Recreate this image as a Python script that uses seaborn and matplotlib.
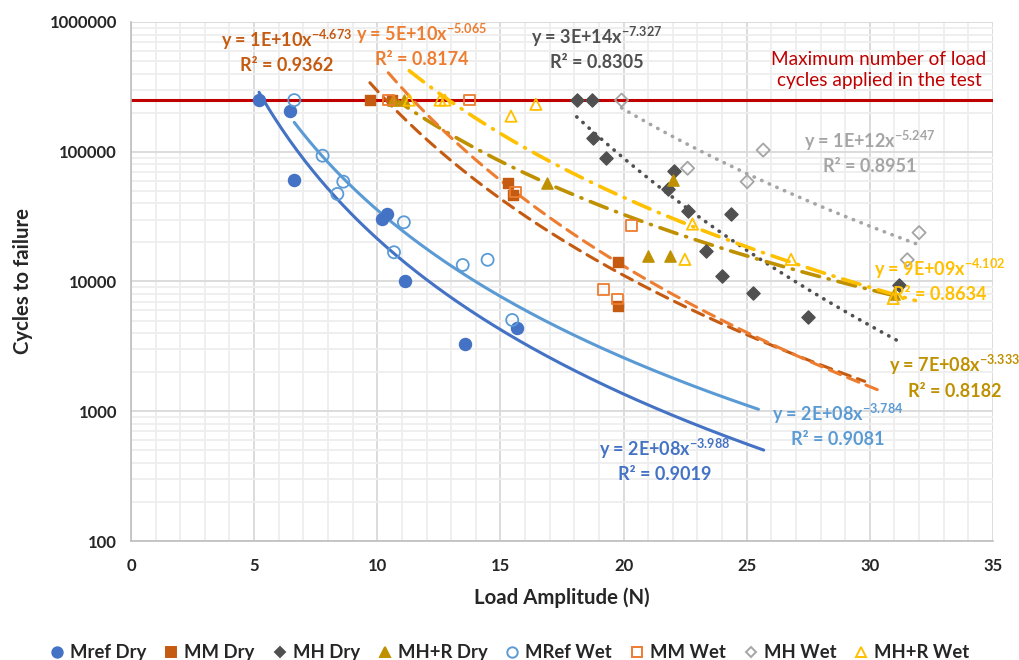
import numpy as np
import seaborn as sns
import matplotlib
matplotlib.use("Agg")
import matplotlib.pyplot as plt
from matplotlib.lines import Line2D
from matplotlib.ticker import LogLocator, MultipleLocator

# --- data ---
mref_dry_x = [5.2, 6.45, 6.6, 10.2, 10.38, 11.12, 13.56, 15.69]
mref_dry_y = [250000, 206000, 60500, 30300, 33100, 10000, 3300, 4360]

mm_dry_x = [9.7, 10.6, 15.32, 15.52, 19.79, 19.79]
mm_dry_y = [250000, 250000, 57100, 46400, 14200, 6480]

mh_dry_x = [18.1, 18.73, 18.77, 19.27, 21.79, 22.05, 22.6, 23.35, 24.0, 24.35, 25.27, 27.47, 31.18]
mh_dry_y = [250000, 250000, 127000, 90000, 51600, 71400, 35000, 17300, 11000, 33100, 8200, 5300, 9400]

mhr_dry_x = [10.65, 11.1, 16.88, 21.0, 21.88, 21.99, 31.0]
mhr_dry_y = [250000, 250000, 57800, 15700, 15700, 60600, 8000]

mref_wet_x = [6.63, 7.78, 8.38, 8.62, 10.68, 11.08, 13.47, 14.48, 15.48]
mref_wet_y = [250000, 93200, 47300, 58800, 16800, 28600, 13400, 14700, 5050]

mm_wet_x = [10.45, 13.76, 15.6, 19.18, 19.74, 20.33]
mm_wet_y = [250000, 250000, 49000, 8730, 7330, 26900]

mh_wet_x = [19.92, 22.6, 25.02, 25.67, 31.52, 32.0]
mh_wet_y = [250000, 74600, 58800, 103000, 14700, 23800]

mhr_wet_x = [11.3, 12.55, 12.75, 15.43, 16.44, 22.49, 22.8, 26.8, 30.95]
mhr_wet_y = [250000, 250000, 250000, 188000, 232000, 14800, 27700, 14800, 7400]

series_names = ["Mref Dry", "MM Dry", "MH Dry", "MH+R Dry", "MRef Wet", "MM Wet", "MH Wet", "MH+R Wet"]
series_x = [mref_dry_x, mm_dry_x, mh_dry_x, mhr_dry_x, mref_wet_x, mm_wet_x, mh_wet_x, mhr_wet_x]
series_y = [mref_dry_y, mm_dry_y, mh_dry_y, mhr_dry_y, mref_wet_y, mm_wet_y, mh_wet_y, mhr_wet_y]
trend_forward = [10, 10, 0, 0, 10, 10, 0, 0.9]

eq_coef = ["2E+08", "1E+10", "3E+14", "7E+08", "2E+08", "5E+10", "1E+12", "9E+09"]
eq_exp = ["-3.988", "-4.673", "-7.327", "-3.333", "-3.784", "-5.065", "-5.247", "-4.102"]
eq_r2 = ["0.9019", "0.9362", "0.8305", "0.8182", "0.9081", "0.8174", "0.8951", "0.8634"]

max_cycles = 250000

# --- styles ---
colors = ["#4472C4", "#C55A11", "#505050", "#BF9000", "#5B9BD5", "#ED7D31", "#A5A5A5", "#FFC000"]
markers = ["o", "s", "D", "^", "o", "s", "D", "^"]
msize = [75, 60, 45, 65, 75, 60, 45, 65]
filled = [True, True, True, True, False, False, False, False]
dash_long = (0, (4, 2.5))
dots = (0, (0.1, 2.2))
dashdot = (0, (5, 2.5, 0.3, 2.5))
line_styles = ["-", dash_long, dots, dashdot, "-", dash_long, dots, dashdot]
line_widths = [2.2, 2.2, 2.6, 2.6, 2.2, 2.2, 2.6, 2.6]
label_pos = [(21.68, 421), (6.33, 597600), (18.92, 630000), (33.45, 1853),
             (28.71, 783), (11.81, 665000), (30.0, 99500), (32.85, 10280)]

sns.set_theme(style="white")
plt.rcParams["font.family"] = ["Lato", "DejaVu Sans"]
plt.rcParams["mathtext.fontset"] = "custom"
plt.rcParams["mathtext.rm"] = "Lato"
plt.rcParams["mathtext.bf"] = "Lato:bold"

fig = plt.figure(figsize=(10.2, 6.6), dpi=100)
ax = fig.add_axes([0.1284, 0.1803, 0.8451, 0.7864])

ax.set_yscale("log")
ax.set_xlim(0, 35)
ax.set_ylim(100, 1000000)

# grid
ax.xaxis.set_major_locator(MultipleLocator(5))
ax.xaxis.set_minor_locator(MultipleLocator(1))
ax.yaxis.set_major_locator(LogLocator(base=10))
ax.yaxis.set_minor_locator(LogLocator(base=10, subs=np.arange(2, 10)))
ax.grid(which="minor", color="#EEEEEE", linewidth=1.3)
ax.grid(which="major", color="#D9D9D9", linewidth=1.3)
ax.set_axisbelow(True)
for s in ["top", "right"]:
    ax.spines[s].set_visible(False)
for s in ["left", "bottom"]:
    ax.spines[s].set_color("#BFBFBF")
    ax.spines[s].set_linewidth(1.2)
ax.tick_params(which="both", direction="out", color="#BFBFBF", length=4, width=1)
ax.tick_params(which="major", labelsize=12, pad=6)
ax.set_yticks([100, 1000, 10000, 100000, 1000000])
ax.set_yticklabels(["100", "1000", "10000", "100000", "1000000"], fontweight="bold")
ax.set_xticks(range(0, 36, 5))
ax.set_xticklabels([str(v) for v in range(0, 36, 5)], fontweight="bold")
ax.tick_params(axis="x", which="major", pad=8)

# max cycles line
ax.axhline(max_cycles, color="#C00000", linewidth=2.2, zorder=2)
ax.text(30.37, 426600, "Maximum number of load\ncycles applied in the test",
        color="#C00000", fontsize=13.7, ha="center", va="center", linespacing=1.3)

# trendlines (power fit, least squares in log space)
for i in range(8):
    lx = np.log(series_x[i])
    ly = np.log(series_y[i])
    b, lna = np.polyfit(lx, ly, 1)
    xs = np.linspace(min(series_x[i]), max(series_x[i]) + trend_forward[i], 200)
    ys = np.exp(lna) * xs ** b
    sns.lineplot(x=xs, y=ys, ax=ax, color=colors[i], linewidth=line_widths[i],
                 linestyle=line_styles[i], dash_capstyle="round", legend=False, zorder=3)

# points
for i in range(8):
    if filled[i]:
        sns.scatterplot(x=series_x[i], y=series_y[i], ax=ax, marker=markers[i], s=msize[i],
                        color=colors[i], edgecolor=colors[i], linewidth=1, zorder=4)
    else:
        sns.scatterplot(x=series_x[i], y=series_y[i], ax=ax, marker=markers[i], s=msize[i],
                        facecolor="none", edgecolor=colors[i], linewidth=1.3, zorder=4)

# equation labels
for i in range(8):
    txt = "y = " + eq_coef[i] + r"x$^{\mathbf{" + eq_exp[i] + "}}$\nR² = " + eq_r2[i]
    ax.text(label_pos[i][0], label_pos[i][1], txt, color=colors[i], fontsize=13,
            fontweight="bold", ha="center", va="center", linespacing=1.4,
            clip_on=False, zorder=5)

ax.set_xlabel("Load Amplitude (N)", fontsize=14.7, fontweight="bold", labelpad=10)
ax.set_ylabel("Cycles to failure", fontsize=14.7, fontweight="bold", labelpad=12)

# legend
handles = []
for i in range(8):
    handles.append(Line2D([0], [0], linestyle="none", marker=markers[i],
                          markersize=7.5 if markers[i] != "D" else 5.5,
                          markerfacecolor=colors[i] if filled[i] else "none",
                          markeredgecolor=colors[i], markeredgewidth=1.4))
fig.legend(handles, series_names, loc="lower center", bbox_to_anchor=(0.5, -0.027),
           ncol=8, frameon=False, handlelength=0.7, handletextpad=0.35, columnspacing=1.0,
           prop={"weight": "bold", "size": 13.3})

fig.savefig("out.png", dpi=100)
